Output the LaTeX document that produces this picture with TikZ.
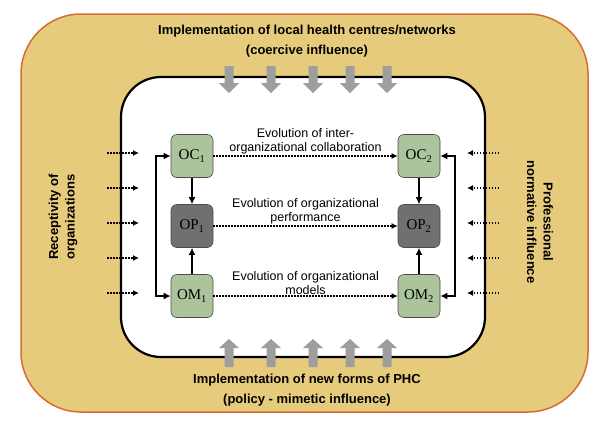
\documentclass[tikz,border=0pt]{standalone}
\usepackage{fontspec}
\setmainfont{Liberation Sans}
\newfontfamily\boxserif{Liberation Serif}
\usetikzlibrary{arrows.meta}
\definecolor{outerfill}{HTML}{E6CB7D}
\definecolor{outerline}{HTML}{D66B35}
\definecolor{boxgreen}{HTML}{ABC49B}
\definecolor{boxdark}{HTML}{707070}
\definecolor{blockgray}{HTML}{9E9E9E}
\tikzset{
  orgbox/.style={draw=black!70, line width=0.6pt, rounded corners=6pt, minimum width=42pt, minimum height=43pt, inner sep=0pt, font=\boxserif\fontsize{15}{15}\selectfont},
  greenbox/.style={orgbox, fill=boxgreen},
  darkbox/.style={orgbox, fill=boxdark},
  solidarrow/.style={line width=2pt, -{Latex[length=7pt,width=7pt]}},
  feedback/.style={line width=2pt, {Latex[length=7pt,width=7pt]}-{Latex[length=7pt,width=7pt]}},
  dotarrow/.style={line width=1.6pt, dash pattern=on 1.5pt off 1.5pt, -{Latex[length=6pt,width=6pt]}},
  evlabel/.style={align=center, font=\fontsize{12.5}{14}\selectfont, inner sep=1pt},
  title/.style={font=\bfseries\fontsize{13}{15}\selectfont},
  sidetitle/.style={font=\bfseries\fontsize{13}{16.5}\selectfont, align=center}
}
\newcommand{\downblock}[2]{\fill[blockgray] (#1-4.5,#2) -- (#1+4.5,#2) -- (#1+4.5,#2+17) -- (#1+10,#2+17) -- (#1,#2+27) -- (#1-10,#2+17) -- (#1-4.5,#2+17) -- cycle;}
\newcommand{\upblock}[2]{\fill[blockgray] (#1-4.5,#2) -- (#1+4.5,#2) -- (#1+4.5,#2-19) -- (#1+10,#2-19) -- (#1,#2-28) -- (#1-10,#2-19) -- (#1-4.5,#2-19) -- cycle;}
\begin{document}
\begin{tikzpicture}[x=1pt,y=-1pt]
\useasboundingbox (0,0) rectangle (600,424);
% outer and inner frames
\draw[fill=outerfill, draw=outerline, line width=1.5pt, rounded corners=60pt] (21,14) rectangle (588,412);
\draw[fill=white, draw=black, line width=2.2pt, rounded corners=40pt] (121,77) rectangle (485,357);
% titles
\node[title] (t1) at (307,31) {Implementation of local health centres/networks};
\node[title] (t2) at (307,51) {(coercive influence)};
\node[title] (b1) at (307,380) {Implementation of new forms of PHC};
\node[title] (b2) at (307,400) {(policy - mimetic influence)};
\node[sidetitle, rotate=90] (lt) at (63,217) {Receptivity of\\organizations};
\node[sidetitle, rotate=-90] (rt) at (540,222) {Professional\\normative influence};
% block arrows
\foreach \x in {229,271,313,350,387} {\downblock{\x}{66}}
\foreach \x in {229,271,313,350,387} {\upblock{\x}{367}}
% side dotted arrows
\foreach \y [count=\i] in {153,188,223,258,293} {
  \coordinate (ls\i) at (107,\y); \coordinate (le\i) at (139,\y);
  \draw[dotarrow] (ls\i) -- (le\i);
  \coordinate (rs\i) at (499,\y); \coordinate (re\i) at (467,\y);
  \draw[dotarrow] (rs\i) -- (re\i);
}
% nodes
\node[greenbox] (OC1) at (192,156) {OC\textsubscript{1}};
\node[darkbox]  (OP1) at (192,226) {OP\textsubscript{1}};
\node[greenbox] (OM1) at (192,296) {OM\textsubscript{1}};
\node[greenbox] (OC2) at (419,156) {OC\textsubscript{2}};
\node[darkbox]  (OP2) at (419,226) {OP\textsubscript{2}};
\node[greenbox] (OM2) at (419,296) {OM\textsubscript{2}};
% vertical arrows
\draw[solidarrow] (OC1) -- (OP1);
\draw[solidarrow] (OM1) -- (OP1);
\draw[solidarrow] (OC2) -- (OP2);
\draw[solidarrow] (OM2) -- (OP2);
% feedback brackets
\draw[feedback] (OC1.west) -- ++(-15pt,0) |- (OM1.west);
\draw[feedback] (OC2.east) -- ++(15pt,0) |- (OM2.east);
% horizontal evolution arrows
\draw[dotarrow] (OC1) -- node[evlabel, above] {Evolution of inter-\\organizational collaboration} (OC2);
\draw[dotarrow] (OP1) -- node[evlabel, above] {Evolution of organizational\\performance} (OP2);
\draw[dotarrow] (OM1) -- node[evlabel, above] {Evolution of organizational\\models} (OM2);
\end{tikzpicture}
\end{document}
